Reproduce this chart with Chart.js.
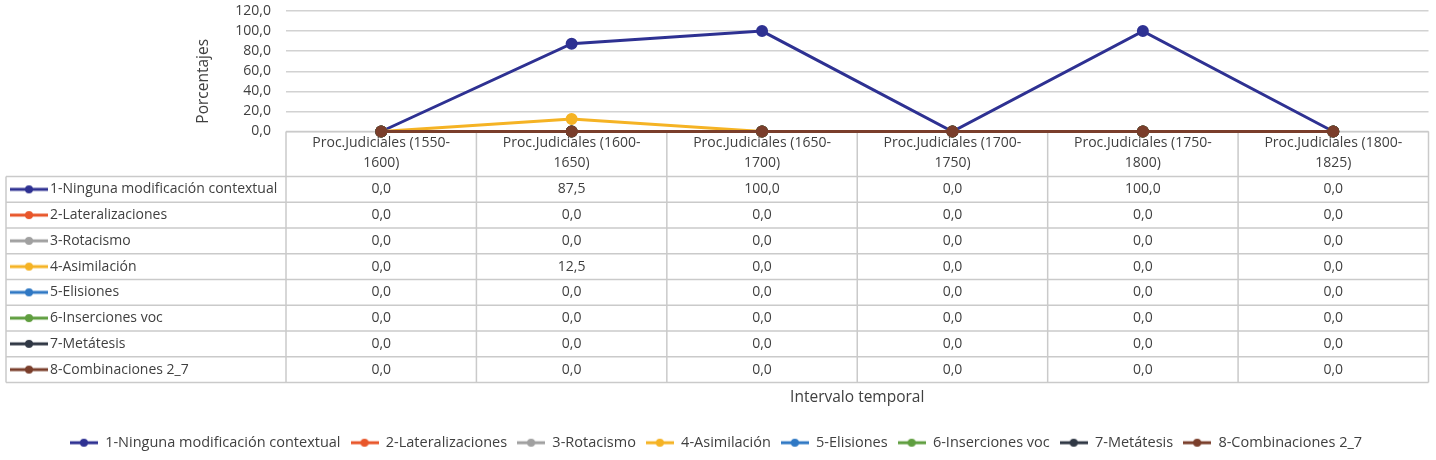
<!DOCTYPE html>
<html>
<head>
<meta charset="utf-8">
<script src="https://cdn.jsdelivr.net/npm/chart.js@4.4.0/dist/chart.umd.min.js"></script>
<style>
    html, body { margin: 0; padding: 0; background: #fff; }
</style>
</head>
<body>
<canvas id="myChart" width="1436" height="460"></canvas>
<script>
// Data
const periods = [
    ['Proc.Judiciales (1550-', '1600)'],
    ['Proc.Judiciales (1600-', '1650)'],
    ['Proc.Judiciales (1650-', '1700)'],
    ['Proc.Judiciales (1700-', '1750)'],
    ['Proc.Judiciales (1750-', '1800)'],
    ['Proc.Judiciales (1800-', '1825)']
];
const seriesNames = [
    '1-Ninguna modificación contextual',
    '2-Lateralizaciones',
    '3-Rotacismo',
    '4-Asimilación',
    '5-Elisiones',
    '6-Inserciones voc',
    '7-Metátesis',
    '8-Combinaciones 2_7'
];
const seriesColors = ['#2e3192', '#e8562a', '#a0a0a0', '#f5b324', '#2f78c4', '#5f9e3f', '#2f3744', '#7a3e2b'];

const ninguna       = [0, 87.5, 100, 0, 100, 0];
const lateral       = [0, 0, 0, 0, 0, 0];
const rotacismo     = [0, 0, 0, 0, 0, 0];
const asimilacion   = [0, 12.5, 0, 0, 0, 0];
const elisiones     = [0, 0, 0, 0, 0, 0];
const inserciones   = [0, 0, 0, 0, 0, 0];
const metatesis     = [0, 0, 0, 0, 0, 0];
const combinaciones = [0, 0, 0, 0, 0, 0];
const seriesValues = [ninguna, lateral, rotacismo, asimilacion, elisiones, inserciones, metatesis, combinaciones];

const yTicks = [0, 20, 40, 60, 80, 100, 120];

const textColor = '#404040';
const lineColor = '#cacaca';
const fmt = v => v.toFixed(1).replace('.', ',');

// little "line with a dot" marker like Excel uses
function makeMarker(color, w, h) {
    const c = document.createElement('canvas');
    c.width = w; c.height = h;
    const g = c.getContext('2d');
    g.strokeStyle = color;
    g.lineWidth = 3;
    g.beginPath();
    g.moveTo(0, h / 2);
    g.lineTo(w, h / 2);
    g.stroke();
    g.fillStyle = color;
    g.beginPath();
    g.arc(w / 2, h / 2, 4, 0, Math.PI * 2);
    g.fill();
    return c;
}
const legendMarkers = seriesColors.map(c => makeMarker(c, 28, 10));
const tableMarkers = seriesColors.map(c => makeMarker(c, 38, 10));

// data table under the plot, columns taken from the x scale
const tablePlugin = {
    id: 'dataTable',
    beforeDatasetsDraw(chart) {
        const {ctx, chartArea, scales: {x}} = chart;
        const half = (x.right - x.left) / periods.length / 2;
        const top = chartArea.bottom;
        const headH = 45, rowH = 25.75, tableLeft = 6;
        const bottom = top + headH + rowH * seriesNames.length;

        ctx.save();
        ctx.strokeStyle = lineColor;
        ctx.lineWidth = 1.5;
        ctx.beginPath();
        ctx.moveTo(x.left, top);
        ctx.lineTo(x.right, top);
        for (let r = 0; r <= seriesNames.length; r++) {
            const y = top + headH + r * rowH;
            ctx.moveTo(tableLeft, y);
            ctx.lineTo(x.right, y);
        }
        ctx.moveTo(tableLeft, top + headH);
        ctx.lineTo(tableLeft, bottom);
        periods.forEach((p, i) => {
            const xl = x.getPixelForValue(i) - half;
            ctx.moveTo(xl, top);
            ctx.lineTo(xl, bottom);
        });
        ctx.moveTo(x.right, top);
        ctx.lineTo(x.right, bottom);
        ctx.stroke();

        ctx.fillStyle = textColor;
        ctx.font = '14px "Open Sans", sans-serif';
        ctx.textAlign = 'center';
        ctx.textBaseline = 'middle';
        periods.forEach((p, i) => {
            const cx = x.getPixelForValue(i);
            ctx.fillText(p[0], cx, top + 12);
            ctx.fillText(p[1], cx, top + 32);
        });

        seriesNames.forEach((name, r) => {
            const cy = top + headH + r * rowH + rowH / 2;
            ctx.drawImage(tableMarkers[r], 10, cy - 5);
            ctx.textAlign = 'left';
            ctx.fillText(name, 50, cy);
            ctx.textAlign = 'center';
            seriesValues[r].forEach((v, i) => {
                ctx.fillText(fmt(v), x.getPixelForValue(i), cy);
            });
        });
        ctx.restore();
    }
};

const ctx = document.getElementById('myChart');
const myChart = new Chart(ctx, {
    type: 'line',
    data: {
        labels: periods.map(p => p.join('')),
        datasets: seriesNames.map((name, i) => ({
            label: name,
            data: seriesValues[i],
            borderColor: seriesColors[i],
            backgroundColor: seriesColors[i],
            pointBackgroundColor: seriesColors[i],
            pointBorderColor: seriesColors[i],
            borderWidth: 3,
            pointRadius: 4.5,
            tension: 0,
            clip: 8,
            order: seriesNames.length - 1 - i      // later series drawn on top, like Excel
        }))
    },
    options: {
        responsive: false,
        devicePixelRatio: 1,
        animation: false,
        layout: {
            padding: {left: 0, right: 4, top: 11, bottom: 0}
        },
        scales: {
            x: {
                offset: true,
                grid: {display: false},
                border: {display: false},
                ticks: {display: false},
                title: {
                    display: true,
                    text: 'Intervalo temporal',
                    color: textColor,
                    padding: {top: 4, bottom: 19},
                    font: {family: '"Open Sans", sans-serif', size: 15.5}
                },
                afterFit(scale) { scale.height = 294; }
            },
            y: {
                min: 0,
                max: 120,
                afterBuildTicks(scale) { scale.ticks = yTicks.map(v => ({value: v})); },
                grid: {color: '#d2d2d2', lineWidth: 1.5, drawTicks: false},
                border: {display: false},
                ticks: {
                    padding: 15,
                    autoSkip: false,
                    color: textColor,
                    font: {family: '"Open Sans", sans-serif', size: 14},
                    callback: v => fmt(v)
                },
                title: {
                    display: true,
                    text: 'Porcentajes     ',   // trailing spaces nudge it down like the original
                    color: textColor,
                    padding: {top: 194, bottom: 4},
                    font: {family: '"Open Sans", sans-serif', size: 15.5}
                },
                afterFit(scale) {
                    scale.width = 286;
                    scale.paddingTop = 0;
                    scale.paddingBottom = 0;
                }
            }
        },
        plugins: {
            tooltip: {enabled: false},
            legend: {
                position: 'bottom',
                labels: {
                    usePointStyle: true,
                    pointStyleWidth: 28,
                    padding: 10,
                    color: textColor,
                    font: {family: '"Open Sans", sans-serif', size: 14.5},
                    sort: (a, b) => a.datasetIndex - b.datasetIndex,
                    generateLabels(chart) {
                        const items = Chart.defaults.plugins.legend.labels.generateLabels(chart);
                        items.forEach(it => { it.pointStyle = legendMarkers[it.datasetIndex]; });
                        return items;
                    }
                }
            }
        }
    },
    plugins: [tablePlugin]
});
</script>
</body>
</html>
